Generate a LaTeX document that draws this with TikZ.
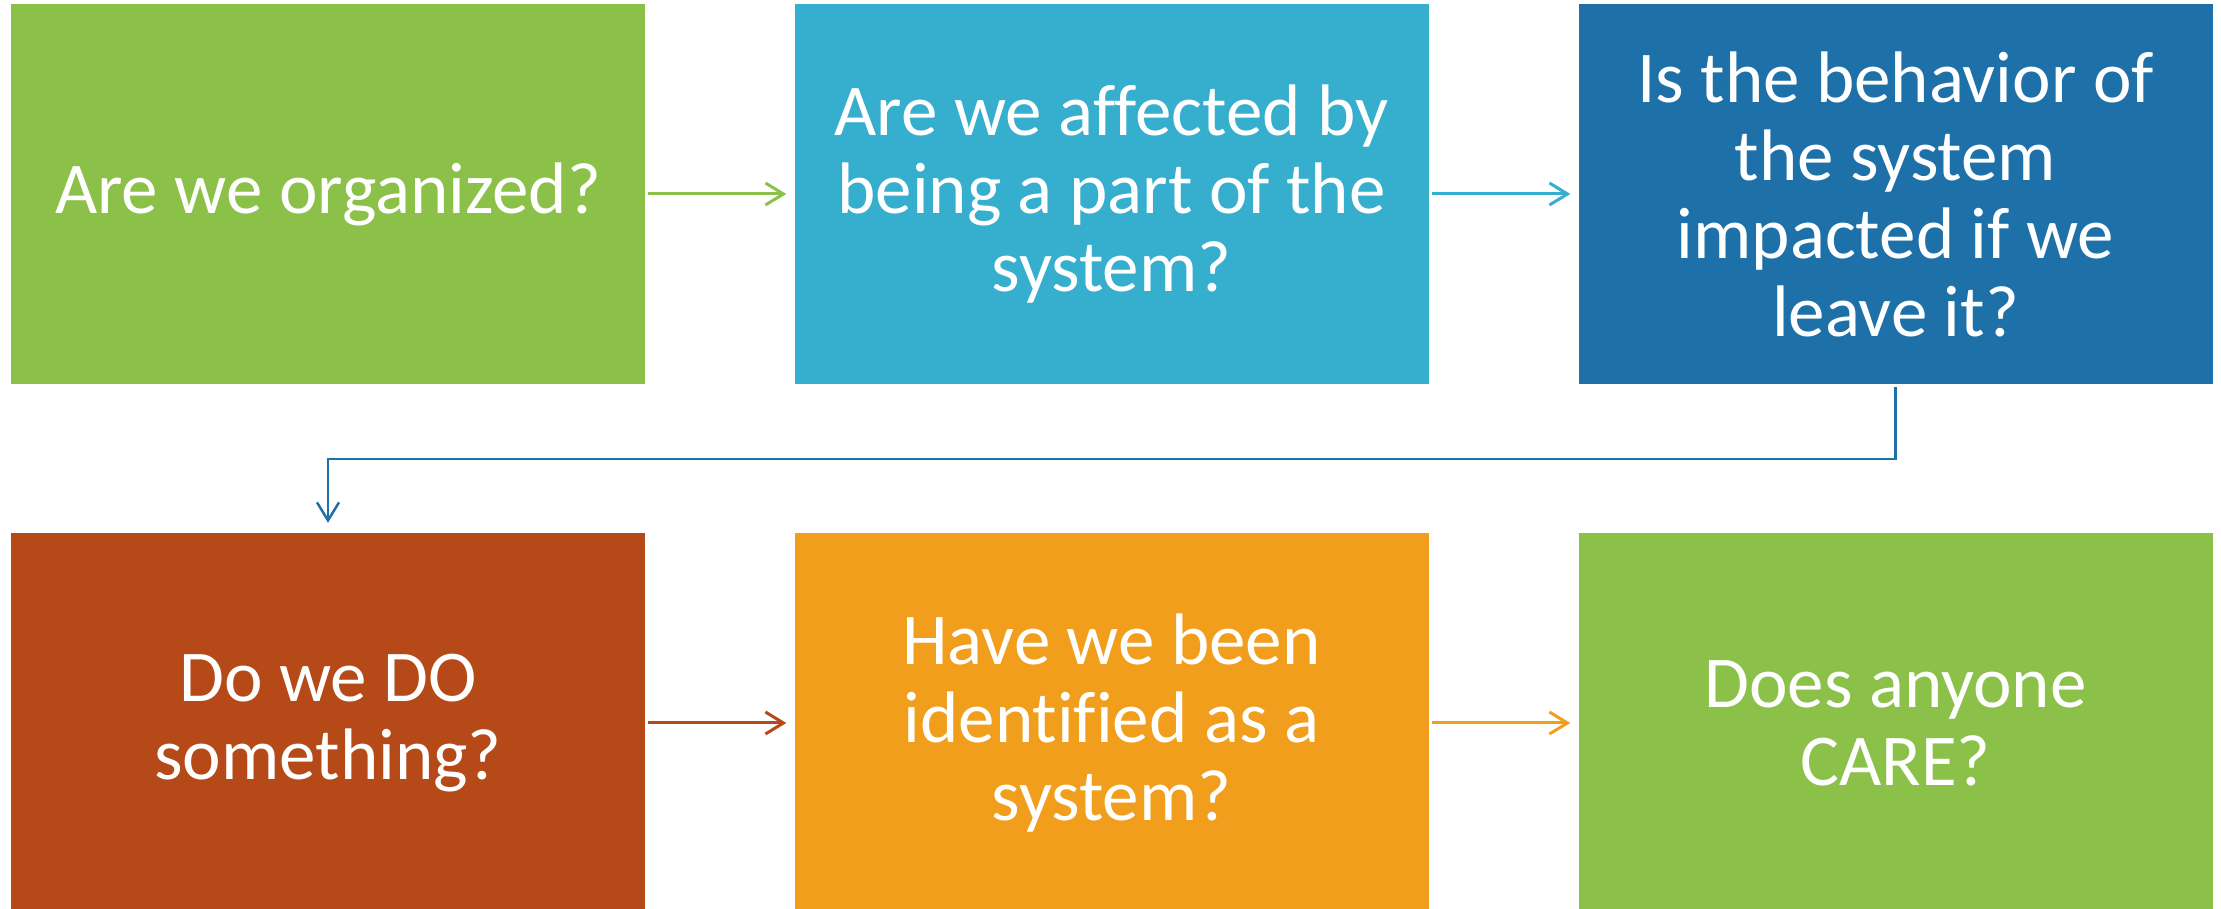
\documentclass[tikz,border=0pt]{standalone}
\usepackage{fontspec}
\setmainfont[Ligatures=NoCommon]{Carlito}
\usepackage{xcolor}
\usetikzlibrary{arrows.meta}
\definecolor{lime}{HTML}{8BC148}
\definecolor{sky}{HTML}{36AECE}
\definecolor{navy}{HTML}{1E70A8}
\definecolor{rust}{HTML}{B64918}
\definecolor{amber}{HTML}{F09E1C}
\tikzset{
  box/.style={rectangle, fill=#1, text=white, inner sep=0pt,
    minimum width=634pt, minimum height=380pt, align=center,
    font=\fontsize{73}{78}\selectfont},
  link/.style={draw=#1, line width=3pt,
    -{Straight Barb[length=18pt,width=22pt]}},
}
\begin{document}
\begin{tikzpicture}[x=1pt,y=1pt]
  \useasboundingbox (0,0) rectangle (2221,909);
  \clip (0,0) rectangle (2221,909);

  \node[box=lime]  (A) at (328,715)    {Are we organized?};
  \node[box=sky]   (B) at (1111.5,715) {Are we affected by\\being a part of the\\system?};
  \node[box=navy]  (C) at (1895.5,715) {Is the behavior of\\the system\\impacted if we\\leave it?};
  \node[box=rust]  (D) at (328,186)    {Do we DO\\something?};
  \node[box=amber] (E) at (1111.5,186) {Have we been\\identified as a\\system?};
  \node[box=lime]  (F) at (1895.5,186) {Does anyone\\CARE?};

  \draw[link=lime,  shorten <=3pt, shorten >=8pt] (A) -- (B);
  \draw[link=sky,   shorten <=3pt, shorten >=8pt] (B) -- (C);
  \draw[link=navy,  line width=2.5pt] ([yshift=-3pt]C.south) -- ++(0,-72) -| ([yshift=10pt]D.north);
  \draw[link=rust,  shorten <=3pt, shorten >=8pt] (D) -- (E);
  \draw[link=amber, shorten <=3pt, shorten >=8pt] (E) -- (F);
\end{tikzpicture}
\end{document}
